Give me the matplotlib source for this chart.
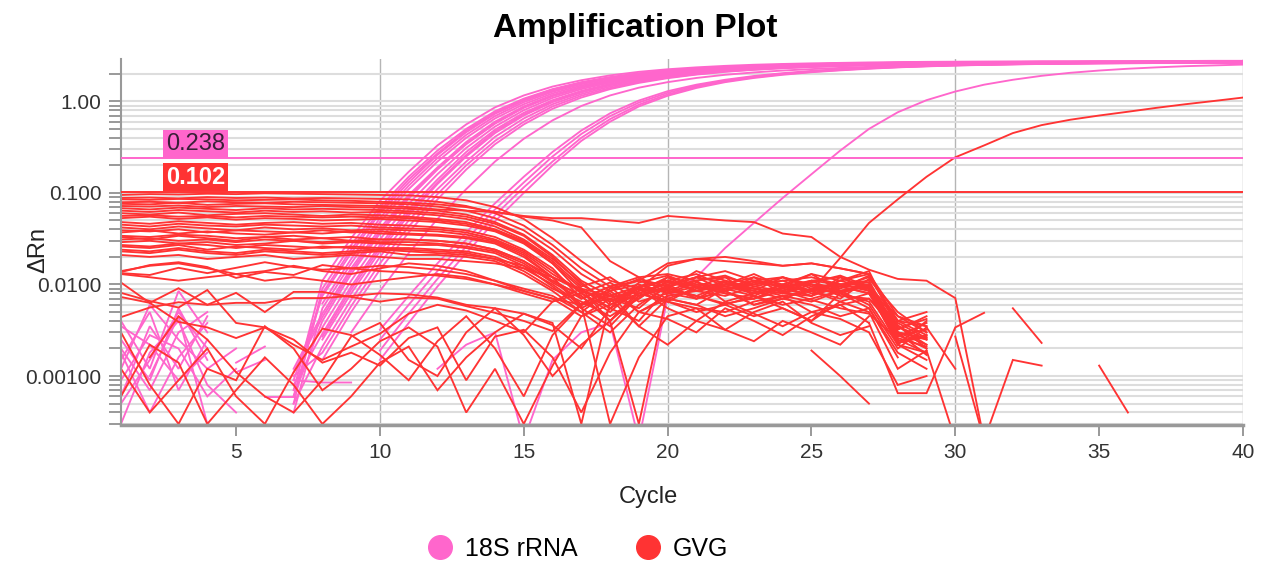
import numpy as np
import matplotlib
matplotlib.use('Agg')
import matplotlib.pyplot as plt
from matplotlib.lines import Line2D
from matplotlib.ticker import LogLocator, NullFormatter

nan = np.nan

# ---- data (delta Rn per cycle) ----
series_names = ['18S rRNA', 'GVG']
thresholds = [0.238, 0.102]
threshold_labels = ['0.238', '0.102']
xtick_values = [5, 10, 15, 20, 25, 30, 35, 40]
ytick_values = [0.001, 0.01, 0.1, 1.0]
ytick_labels = ['0.00100', '0.0100', '0.100', '1.00']

# 18S rRNA: main amplification curves, cycles 7..40
pink_main = [
    [0.0007, 0.011, 0.032, 0.082, 0.17, 0.33, 0.56, 0.86, 1.16, 1.45, 1.70, 1.92, 2.10, 2.24, 2.35, 2.44, 2.51, 2.56, 2.60, 2.63, 2.66, 2.68, 2.70, 2.71, 2.72, 2.73, 2.74, 2.74, 2.75, 2.75, 2.76, 2.76, 2.77, 2.77],
    [0.0005, 0.009, 0.027, 0.070, 0.15, 0.29, 0.50, 0.78, 1.07, 1.36, 1.62, 1.84, 2.02, 2.17, 2.29, 2.38, 2.45, 2.51, 2.55, 2.59, 2.62, 2.64, 2.66, 2.67, 2.68, 2.69, 2.70, 2.70, 2.71, 2.71, 2.72, 2.72, 2.73, 2.73],
    [0.0006, 0.0080, 0.024, 0.064, 0.14, 0.27, 0.48, 0.75, 1.05, 1.34, 1.60, 1.82, 2.01, 2.16, 2.28, 2.37, 2.44, 2.50, 2.55, 2.58, 2.61, 2.64, 2.66, 2.67, 2.68, 2.69, 2.70, 2.70, 2.71, 2.71, 2.72, 2.72, 2.73, 2.73],
    [0.0009, 0.0075, 0.022, 0.060, 0.13, 0.26, 0.46, 0.73, 1.02, 1.31, 1.58, 1.80, 1.99, 2.14, 2.26, 2.36, 2.43, 2.49, 2.54, 2.58, 2.61, 2.63, 2.65, 2.66, 2.67, 2.68, 2.69, 2.69, 2.70, 2.70, 2.71, 2.71, 2.72, 2.72],
    [nan, 0.0062, 0.019, 0.053, 0.12, 0.24, 0.43, 0.69, 0.98, 1.27, 1.54, 1.77, 1.96, 2.12, 2.25, 2.35, 2.43, 2.49, 2.54, 2.58, 2.61, 2.64, 2.66, 2.67, 2.68, 2.69, 2.70, 2.71, 2.71, 2.72, 2.72, 2.73, 2.73, 2.74],
    [0.0004, 0.0055, 0.017, 0.048, 0.11, 0.22, 0.40, 0.65, 0.93, 1.22, 1.49, 1.72, 1.92, 2.08, 2.21, 2.31, 2.39, 2.45, 2.50, 2.54, 2.57, 2.60, 2.62, 2.63, 2.64, 2.65, 2.66, 2.66, 2.67, 2.67, 2.68, 2.68, 2.69, 2.69],
    [0.0012, 0.0048, 0.015, 0.041, 0.095, 0.19, 0.36, 0.60, 0.88, 1.17, 1.44, 1.68, 1.88, 2.05, 2.18, 2.29, 2.37, 2.44, 2.49, 2.53, 2.57, 2.60, 2.62, 2.64, 2.65, 2.66, 2.67, 2.68, 2.68, 2.69, 2.69, 2.70, 2.70, 2.71],
    [0.0011, 0.0044, 0.014, 0.038, 0.091, 0.185, 0.35, 0.58, 0.86, 1.15, 1.42, 1.66, 1.86, 2.03, 2.17, 2.28, 2.36, 2.43, 2.48, 2.53, 2.56, 2.59, 2.61, 2.63, 2.64, 2.65, 2.66, 2.67, 2.67, 2.68, 2.68, 2.69, 2.69, 2.70],
    [0.0006, 0.0040, 0.013, 0.036, 0.087, 0.18, 0.34, 0.57, 0.85, 1.14, 1.41, 1.65, 1.85, 2.02, 2.16, 2.27, 2.36, 2.43, 2.48, 2.52, 2.56, 2.59, 2.61, 2.63, 2.64, 2.65, 2.66, 2.67, 2.67, 2.68, 2.68, 2.69, 2.69, 2.70],
    [nan, 0.0034, 0.011, 0.031, 0.076, 0.16, 0.31, 0.53, 0.80, 1.09, 1.36, 1.60, 1.81, 1.98, 2.12, 2.23, 2.32, 2.39, 2.45, 2.50, 2.54, 2.57, 2.60, 2.62, 2.63, 2.64, 2.65, 2.66, 2.66, 2.67, 2.67, 2.68, 2.68, 2.69],
    [0.0008, 0.0029, 0.0095, 0.027, 0.066, 0.14, 0.28, 0.49, 0.75, 1.03, 1.30, 1.55, 1.76, 1.94, 2.09, 2.21, 2.30, 2.38, 2.44, 2.49, 2.53, 2.56, 2.59, 2.61, 2.62, 2.63, 2.64, 2.65, 2.65, 2.66, 2.66, 2.67, 2.67, 2.68],
    [nan, 0.0027, 0.0088, 0.025, 0.061, 0.13, 0.26, 0.47, 0.72, 1.00, 1.27, 1.52, 1.74, 1.92, 2.07, 2.19, 2.29, 2.37, 2.43, 2.48, 2.52, 2.55, 2.58, 2.60, 2.61, 2.62, 2.63, 2.64, 2.64, 2.65, 2.65, 2.66, 2.66, 2.67],
    [nan, 0.0025, 0.0080, 0.023, 0.057, 0.125, 0.25, 0.45, 0.70, 0.98, 1.25, 1.50, 1.72, 1.90, 2.06, 2.18, 2.28, 2.36, 2.42, 2.47, 2.51, 2.55, 2.58, 2.60, 2.61, 2.62, 2.63, 2.64, 2.64, 2.65, 2.65, 2.66, 2.66, 2.67],
    [0.0005, 0.0021, 0.0068, 0.020, 0.050, 0.11, 0.22, 0.41, 0.65, 0.93, 1.20, 1.45, 1.67, 1.86, 2.02, 2.15, 2.25, 2.33, 2.40, 2.45, 2.50, 2.53, 2.56, 2.58, 2.60, 2.61, 2.62, 2.63, 2.63, 2.64, 2.64, 2.65, 2.65, 2.66],
    [0.0010, 0.0018, 0.0058, 0.017, 0.043, 0.097, 0.20, 0.37, 0.60, 0.88, 1.15, 1.40, 1.63, 1.82, 1.98, 2.12, 2.22, 2.31, 2.38, 2.44, 2.48, 2.52, 2.55, 2.57, 2.59, 2.60, 2.61, 2.62, 2.62, 2.63, 2.63, 2.64, 2.64, 2.65],
    [nan, 0.0015, 0.0050, 0.0145, 0.037, 0.085, 0.18, 0.34, 0.56, 0.83, 1.10, 1.36, 1.59, 1.79, 1.96, 2.10, 2.21, 2.30, 2.37, 2.43, 2.48, 2.52, 2.55, 2.57, 2.59, 2.60, 2.61, 2.62, 2.63, 2.63, 2.64, 2.64, 2.65, 2.65],
    [nan, nan, 0.0030, 0.0085, 0.022, 0.052, 0.11, 0.22, 0.39, 0.62, 0.89, 1.16, 1.41, 1.62, 1.80, 1.95, 2.07, 2.17, 2.25, 2.32, 2.38, 2.43, 2.47, 2.50, 2.53, 2.55, 2.57, 2.59, 2.60, 2.61, 2.62, 2.63, 2.64, 2.65],
]
pink_main_start = 7

# 18S rRNA: later wells, cycles 10..40
pink_late = [
    [0.0032, 0.0075, 0.017, 0.037, 0.077, 0.15, 0.28, 0.48, 0.74, 1.02, 1.29, 1.52, 1.72, 1.89, 2.03, 2.15, 2.25, 2.33, 2.40, 2.45, 2.50, 2.53, 2.56, 2.58, 2.60, 2.62, 2.63, 2.64, 2.65, 2.66, 2.67],
    [0.0025, 0.0060, 0.014, 0.031, 0.066, 0.13, 0.25, 0.44, 0.69, 0.97, 1.24, 1.48, 1.68, 1.86, 2.00, 2.12, 2.22, 2.30, 2.37, 2.43, 2.48, 2.52, 2.55, 2.57, 2.59, 2.61, 2.62, 2.63, 2.64, 2.65, 2.66],
    [0.0019, 0.0048, 0.0115, 0.026, 0.057, 0.115, 0.22, 0.40, 0.64, 0.92, 1.19, 1.44, 1.65, 1.83, 1.98, 2.10, 2.20, 2.29, 2.36, 2.42, 2.47, 2.51, 2.54, 2.57, 2.59, 2.61, 2.62, 2.63, 2.64, 2.65, 2.66],
    [0.0015, 0.0038, 0.0095, 0.022, 0.049, 0.10, 0.20, 0.37, 0.60, 0.88, 1.15, 1.40, 1.62, 1.80, 1.95, 2.08, 2.18, 2.27, 2.35, 2.41, 2.46, 2.50, 2.53, 2.56, 2.58, 2.60, 2.61, 2.62, 2.63, 2.64, 2.65],
]
pink_late_start = 10

# 18S rRNA: one very late well, cycles 12..40
pink_outlier = [0.0012, 0.0022, 0.0030, 0.0002, 0.0015, 0.0030, 0.0038, 0.0002, 0.0073, 0.012, 0.025, 0.047, 0.088, 0.16, 0.29, 0.50, 0.76, 1.03, 1.28, 1.52, 1.72, 1.90, 2.05, 2.17, 2.27, 2.35, 2.42, 2.47, 2.52]
pink_outlier_start = 12

# 18S rRNA: noisy baseline fragments (start cycle, values)
pink_noise = [
    (1, [0.0006, 0.0035, 0.0012, 0.0045]),
    (1, [0.0025, 0.0009, 0.0055, 0.0015]),
    (1, [0.0003, 0.0018, 0.0040, 0.0008, 0.0004]),
    (1, [0.0015, 0.0050, 0.0007, 0.0025]),
    (1, [0.0040, 0.0012, 0.0085, 0.0030]),
    (1, [0.0009, 0.0028, 0.0020, 0.0006, 0.0012]),
    (1, [0.0020, 0.0007, 0.0030, 0.0050]),
    (1, [0.0035, 0.0022, 0.0009, 0.0018]),
    (1, [0.0012, 0.0060, 0.0025, 0.0012, 0.0020]),
    (1, [0.0005, 0.0015, 0.0050, 0.0020]),
    (1, [0.0018, 0.0004, 0.0016, 0.0038]),
    (2, [0.0010, 0.0045, 0.0003]),
    (5, [0.0011, 0.0015]),
    (5, [0.0014, 0.0021]),
    (6, [0.00059, 0.00059]),
    (7, [0.0009, 0.00085, 0.00085]),
]

# GVG: baseline wells, cycles 1..29
red_band = [
    [0.095, 0.097, 0.096, 0.098, 0.097, 0.099, 0.098, 0.097, 0.096, 0.095, 0.094, 0.090, 0.083, 0.070, 0.052, 0.032, 0.018, 0.011, 0.009, 0.016, 0.019, 0.018, 0.017, 0.016, 0.017, 0.015, 0.013, 0.0045, 0.0035],
    [0.088, 0.089, 0.087, 0.090, 0.088, 0.089, 0.087, 0.088, 0.087, 0.086, 0.085, 0.080, 0.072, 0.060, 0.044, 0.027, 0.015, 0.0095, 0.011, 0.017, 0.019, 0.020, 0.018, 0.016, 0.017, 0.015, 0.013, 0.0038, 0.0026],
    [0.079, 0.080, 0.078, 0.081, 0.079, 0.078, 0.080, 0.079, 0.078, 0.077, 0.075, 0.071, 0.064, 0.053, 0.039, 0.024, 0.013, 0.0085, 0.0115, 0.0095, 0.012, 0.014, 0.011, 0.0095, 0.013, 0.011, 0.014, 0.0032, 0.0045],
    [0.076, 0.075, 0.078, 0.074, 0.076, 0.077, 0.075, 0.074, 0.073, 0.072, 0.070, 0.066, 0.064, 0.062, 0.055, 0.050, 0.042, 0.018, 0.012, 0.013, 0.011, 0.012, 0.010, 0.011, 0.012, 0.010, 0.011, 0.0030, 0.0025],
    [0.072, 0.071, 0.073, 0.070, 0.072, 0.071, 0.070, 0.072, 0.070, 0.069, 0.067, 0.064, 0.058, 0.048, 0.035, 0.021, 0.011, 0.0075, 0.0070, 0.011, 0.013, 0.0095, 0.0085, 0.012, 0.010, 0.0085, 0.010, 0.0027, 0.0038],
    [0.068, 0.066, 0.069, 0.067, 0.065, 0.068, 0.066, 0.067, 0.066, 0.065, 0.063, 0.060, 0.055, 0.046, 0.034, 0.020, 0.010, 0.0065, 0.0085, 0.012, 0.010, 0.0095, 0.011, 0.012, 0.009, 0.010, 0.0105, 0.0028, 0.0032],
    [0.064, 0.062, 0.065, 0.063, 0.061, 0.064, 0.062, 0.063, 0.061, 0.062, 0.060, 0.057, 0.052, 0.043, 0.031, 0.019, 0.0105, 0.0060, 0.0090, 0.0085, 0.0110, 0.0125, 0.0095, 0.0085, 0.0105, 0.0125, 0.0095, 0.0026, 0.0021],
    [0.060, 0.058, 0.061, 0.057, 0.059, 0.060, 0.058, 0.056, 0.058, 0.057, 0.055, 0.052, 0.048, 0.040, 0.030, 0.018, 0.0095, 0.012, 0.0075, 0.009, 0.014, 0.011, 0.009, 0.008, 0.011, 0.012, 0.009, 0.0022, 0.0040],
    [0.056, 0.057, 0.055, 0.056, 0.054, 0.056, 0.055, 0.054, 0.055, 0.054, 0.053, 0.050, 0.046, 0.039, 0.029, 0.017, 0.0090, 0.0055, 0.0105, 0.0125, 0.0095, 0.0085, 0.0120, 0.0100, 0.0080, 0.0090, 0.0125, 0.0040, 0.0035],
    [0.053, 0.055, 0.052, 0.054, 0.051, 0.053, 0.052, 0.050, 0.051, 0.052, 0.050, 0.048, 0.044, 0.038, 0.028, 0.017, 0.008, 0.005, 0.0095, 0.011, 0.0085, 0.010, 0.013, 0.0095, 0.0085, 0.011, 0.013, 0.0035, 0.0022],
    [0.048, 0.046, 0.049, 0.047, 0.045, 0.047, 0.048, 0.046, 0.047, 0.045, 0.044, 0.042, 0.039, 0.033, 0.024, 0.015, 0.007, 0.0095, 0.012, 0.0080, 0.0095, 0.012, 0.0075, 0.010, 0.013, 0.0085, 0.0095, 0.0045, 0.0030],
    [0.045, 0.043, 0.046, 0.044, 0.043, 0.045, 0.044, 0.043, 0.044, 0.042, 0.041, 0.040, 0.037, 0.031, 0.023, 0.014, 0.0080, 0.0105, 0.0065, 0.0080, 0.0105, 0.0090, 0.0100, 0.0120, 0.0095, 0.0080, 0.0100, 0.0033, 0.0042],
    [0.042, 0.040, 0.043, 0.041, 0.039, 0.042, 0.040, 0.041, 0.039, 0.040, 0.039, 0.038, 0.035, 0.030, 0.022, 0.013, 0.0085, 0.0070, 0.0055, 0.010, 0.012, 0.0085, 0.011, 0.0095, 0.0075, 0.012, 0.0085, 0.0025, 0.0018],
    [0.039, 0.038, 0.040, 0.037, 0.039, 0.038, 0.037, 0.039, 0.037, 0.038, 0.036, 0.035, 0.033, 0.029, 0.021, 0.012, 0.0055, 0.0035, 0.0075, 0.0095, 0.0120, 0.0105, 0.0080, 0.0090, 0.0110, 0.0100, 0.0090, 0.0024, 0.0028],
    [0.037, 0.039, 0.036, 0.038, 0.036, 0.035, 0.037, 0.036, 0.038, 0.036, 0.035, 0.034, 0.032, 0.028, 0.020, 0.012, 0.0060, 0.0090, 0.0110, 0.0090, 0.0075, 0.010, 0.012, 0.0080, 0.010, 0.0095, 0.012, 0.0040, 0.0050],
    [0.033, 0.031, 0.034, 0.032, 0.030, 0.033, 0.031, 0.032, 0.030, 0.031, 0.031, 0.030, 0.028, 0.024, 0.018, 0.011, 0.0075, 0.0040, 0.0080, 0.0105, 0.0095, 0.0080, 0.0070, 0.0095, 0.011, 0.0080, 0.010, 0.0030, 0.0026],
    [0.031, 0.032, 0.030, 0.031, 0.029, 0.031, 0.030, 0.029, 0.030, 0.029, 0.029, 0.028, 0.026, 0.023, 0.017, 0.0105, 0.0070, 0.0095, 0.0050, 0.0075, 0.0085, 0.0110, 0.0090, 0.0080, 0.0075, 0.0110, 0.0090, 0.0036, 0.0020],
    [0.029, 0.030, 0.028, 0.029, 0.027, 0.028, 0.030, 0.028, 0.029, 0.028, 0.027, 0.027, 0.025, 0.022, 0.016, 0.0095, 0.0055, 0.0080, 0.0035, 0.0070, 0.0090, 0.0105, 0.0085, 0.0070, 0.0090, 0.0100, 0.0085, 0.0022, 0.0015],
    [0.027, 0.026, 0.028, 0.027, 0.025, 0.027, 0.026, 0.025, 0.026, 0.025, 0.025, 0.024, 0.023, 0.020, 0.015, 0.0100, 0.0060, 0.0070, 0.0090, 0.0065, 0.0095, 0.0080, 0.0070, 0.0095, 0.0100, 0.0075, 0.0070, 0.0030, 0.0017],
    [0.026, 0.025, 0.027, 0.024, 0.026, 0.025, 0.024, 0.026, 0.025, 0.024, 0.024, 0.023, 0.022, 0.019, 0.014, 0.0090, 0.0065, 0.0045, 0.0070, 0.0120, 0.0085, 0.0075, 0.0095, 0.0110, 0.0085, 0.0070, 0.0115, 0.0050, 0.0030],
    [0.024, 0.023, 0.025, 0.023, 0.022, 0.024, 0.023, 0.022, 0.023, 0.024, 0.023, 0.022, 0.021, 0.019, 0.016, 0.011, 0.0075, 0.0040, 0.0085, 0.0100, 0.0070, 0.0085, 0.0060, 0.0075, 0.0085, 0.0065, 0.0080, 0.0023, 0.0027],
    [0.023, 0.022, 0.024, 0.022, 0.021, 0.023, 0.022, 0.021, 0.022, 0.023, 0.021, 0.021, 0.020, 0.018, 0.013, 0.0085, 0.0050, 0.0030, 0.0060, 0.0095, 0.0110, 0.0065, 0.0080, 0.0090, 0.0075, 0.0095, 0.0080, 0.0028, 0.0020],
    [0.021, 0.020, 0.021, 0.019, 0.020, 0.021, 0.019, 0.020, 0.021, 0.020, 0.019, 0.019, 0.018, 0.017, 0.015, 0.012, 0.0090, 0.0075, 0.0095, 0.0070, 0.0060, 0.0090, 0.0075, 0.0060, 0.0070, 0.0085, 0.0060, 0.0020, 0.0034],
    [0.014, 0.016, 0.017, 0.015, 0.013, 0.014, 0.016, 0.014, 0.013, 0.015, 0.017, 0.016, 0.014, 0.011, 0.0085, 0.0070, 0.0045, 0.0060, 0.0080, 0.0065, 0.0055, 0.0050, 0.0065, 0.0075, 0.0050, 0.0060, 0.0070, 0.0035, 0.0025],
    [0.0137, 0.0163, 0.0175, 0.0155, 0.0118, 0.0137, 0.0127, 0.0163, 0.0150, 0.0140, 0.0135, 0.0125, 0.0115, 0.0100, 0.0085, 0.0070, 0.0060, 0.0075, 0.0095, 0.0110, 0.0085, 0.0095, 0.0080, 0.0100, 0.0085, 0.0095, 0.0080, 0.0030, 0.0022],
    [0.0133, 0.0127, 0.0152, 0.0133, 0.0152, 0.0175, 0.0155, 0.0145, 0.0150, 0.0160, 0.0155, 0.0145, 0.0130, 0.0110, 0.0090, 0.0075, 0.0050, 0.0085, 0.0100, 0.0080, 0.0070, 0.0100, 0.0090, 0.0075, 0.0065, 0.0085, 0.0095, 0.0040, 0.0028],
    [0.013, 0.012, 0.011, 0.012, 0.013, 0.011, 0.012, 0.011, 0.010, 0.011, 0.012, 0.013, 0.012, 0.010, 0.0080, 0.0065, 0.0080, 0.0055, 0.0040, 0.0090, 0.0075, 0.0060, 0.0045, 0.0055, 0.0040, 0.0080, 0.0055, 0.0018, 0.0012],
]

# GVG: low, noisy wells, cycles 1..29
red_low = [
    [0.0105, 0.0063, 0.0039, 0.0034, 0.0026, 0.0034, 0.0022, 0.0015, 0.0021, 0.0029, 0.0048, 0.0060, 0.0052, 0.0040, 0.0030, 0.0065, 0.0090, 0.0040, 0.0075, 0.0095, 0.0070, 0.0085, 0.0060, 0.0070, 0.0090, 0.0080, 0.0065, 0.0022, 0.0018],
    [0.0073, 0.0063, 0.0091, 0.0060, 0.0081, 0.0050, 0.0083, 0.0083, 0.0073, 0.0065, 0.0072, 0.0070, 0.0058, 0.0049, 0.0040, 0.0031, 0.0062, 0.0085, 0.0050, 0.0070, 0.0060, 0.0045, 0.0055, 0.0070, 0.0060, 0.0045, 0.0055, 0.0016, nan],
    [0.0044, 0.0056, 0.0064, 0.0060, 0.0063, 0.0063, 0.0071, 0.0071, 0.0075, 0.0080, 0.0078, 0.0072, 0.0060, 0.0055, 0.0048, 0.0036, 0.0020, 0.0055, 0.0080, 0.0065, 0.0050, 0.0060, 0.0075, 0.0055, 0.0040, 0.0065, 0.0050, 0.0012, 0.0019],
    [0.0081, 0.0066, 0.0056, 0.0087, 0.0038, 0.0034, 0.0025, 0.0014, 0.0018, 0.0013, 0.0026, 0.0034, 0.0009, 0.0027, 0.0032, 0.0016, 0.0004, 0.0018, 0.0050, 0.0042, 0.0030, 0.0055, 0.0040, 0.0028, 0.0045, 0.0060, 0.0038, nan, nan],
    [0.0030, 0.0008, 0.0003, 0.0012, 0.0009, 0.0035, 0.0020, 0.0007, 0.0012, 0.0024, 0.0034, 0.0021, 0.0004, 0.0012, 0.0003, 0.0013, 0.0045, 0.0070, 0.0035, 0.0022, 0.0040, 0.0065, 0.0048, 0.0035, 0.0050, 0.0042, 0.0030, 0.0008, 0.0010],
    [0.0012, 0.0004, 0.0009, 0.0020, 0.0006, 0.0003, 0.0011, 0.0033, 0.0028, 0.0017, 0.0009, 0.0024, 0.0045, 0.0020, 0.0006, 0.0028, 0.0060, 0.0003, 0.0016, 0.0045, 0.0055, 0.0032, 0.0024, 0.0040, 0.0030, 0.0022, 0.0045, nan, nan],
    [0.0006, 0.0022, 0.0014, 0.0003, 0.0007, 0.0016, 0.0008, 0.0003, 0.0006, 0.0014, 0.0021, 0.0007, 0.0016, 0.0030, 0.0048, 0.0038, 0.0003, 0.0065, 0.0090, 0.0055, 0.0040, 0.0032, 0.0050, 0.0065, 0.0038, 0.0028, 0.0035, nan, nan],
    [nan, 0.0016, 0.0045, 0.0025, 0.0011, 0.0006, 0.0004, 0.0009, 0.0027, 0.0038, 0.0015, 0.0010, 0.0030, 0.0055, 0.0028, 0.0010, 0.0022, 0.0040, 0.0003, 0.0085, 0.0075, 0.0062, 0.0070, 0.0085, 0.0068, 0.0055, 0.0048, 0.0025, nan],
]

# GVG: well that stays high, cycles 1..31
red_persist = [0.085, 0.084, 0.086, 0.085, 0.083, 0.084, 0.085, 0.083, 0.082, 0.080, 0.078, 0.075, 0.070, 0.062, 0.056, 0.053, 0.053, 0.050, 0.047, 0.056, 0.053, 0.050, 0.048, 0.036, 0.033, 0.020, 0.0145, 0.0115, 0.011, 0.0071, 0.0002]

# GVG: the one amplifying well, cycles 1..40
red_amp = [0.034, 0.033, 0.035, 0.034, 0.032, 0.033, 0.034, 0.032, 0.033, 0.031, 0.031, 0.030, 0.028, 0.024, 0.018,
           0.012, 0.0085, 0.0065, 0.0095, 0.011, 0.0095, 0.0085, 0.0105, 0.0095, 0.0085,
           0.0195, 0.047, 0.085, 0.15, 0.245, 0.33, 0.45, 0.55, 0.63, 0.70, 0.77, 0.85, 0.93, 1.01, 1.10]

# GVG: late fragments (start cycle, values)
red_tails = [
    (29, [0.0034, 0.0012]),
    (27, [0.0038, 0.00065, 0.00065, 0.0034, 0.0049]),
    (29, [0.0019, 0.0002]),
    (30, [0.0027, 0.0002, 0.0015, 0.0013]),
    (32, [0.0055, 0.0023]),
    (35, [0.0013, 0.0004]),
    (25, [0.0019, 0.0010, 0.0005]),
]

pink = '#ff66cc'
red = '#ff3333'
lw = 1.35


def draw(ax, start, vals, color):
    vals = np.array(vals, dtype=float)
    x = np.arange(start, start + len(vals))
    ax.plot(x, vals, color=color, lw=lw, solid_joinstyle='miter')


plt.rcParams['font.family'] = ['Liberation Sans', 'DejaVu Sans']

fig = plt.figure(figsize=(12.63, 5.65), dpi=100)
ax = fig.add_axes([121 / 1263, 1 - 425 / 565, (1243 - 121) / 1263, (425 - 59) / 565])

# pink first, red on top
for s, v in pink_noise:
    draw(ax, s, v, pink)
for v in pink_main:
    draw(ax, pink_main_start, v, pink)
for v in pink_late:
    draw(ax, pink_late_start, v, pink)
draw(ax, pink_outlier_start, pink_outlier, pink)

for v in red_band:
    draw(ax, 1, v, red)
for v in red_low:
    draw(ax, 1, v, red)
draw(ax, 1, red_persist, red)
draw(ax, 1, red_amp, red)
for s, v in red_tails:
    draw(ax, s, v, red)

# threshold lines and their labels
ax.axhline(thresholds[0], color=pink, lw=1.4, zorder=5)
ax.axhline(thresholds[1], color=red, lw=1.4, zorder=5)
ax.annotate(threshold_labels[0], xy=(3.6, thresholds[0]), xytext=(0, 2.5), textcoords='offset points',
            ha='center', va='bottom', fontsize=17, color='#3a1f38', zorder=6,
            bbox=dict(boxstyle='square,pad=0.12', fc=pink, ec='none'))
ax.annotate(threshold_labels[1], xy=(3.6, thresholds[1]), xytext=(0, 2.5), textcoords='offset points',
            ha='center', va='bottom', fontsize=17, color='white', fontweight='bold', zorder=6,
            bbox=dict(boxstyle='square,pad=0.12', fc=red, ec='none'))

# axes
ax.set_yscale('log')
ax.set_xlim(1, 40)
ax.set_ylim(0.000292, 2.9)
ax.set_yticks(ytick_values)
ax.set_yticklabels(ytick_labels)
ax.yaxis.set_minor_locator(LogLocator(base=10, subs=range(2, 10)))
ax.yaxis.set_minor_formatter(NullFormatter())
ax.set_xticks(xtick_values)
ax.grid(which='both', axis='y', color='#dddddd', lw=1.5)
for xv in [10, 20, 30, 40]:
    ax.axvline(xv, color='#b5b5b5', lw=1.0, zorder=0.5)
ax.set_axisbelow(True)

for side in ['top', 'right']:
    ax.spines[side].set_visible(False)
ax.spines['left'].set_color('#999999')
ax.spines['left'].set_linewidth(1.5)
ax.spines['bottom'].set_color('#999999')
ax.spines['bottom'].set_linewidth(2.5)
ax.tick_params(axis='y', which='both', direction='out', length=9, width=1.4, color='#999999',
               labelsize=15, labelcolor='#333333', pad=5)
ax.tick_params(axis='x', which='both', direction='out', length=8, width=1.4, color='#999999',
               labelsize=15, labelcolor='#333333', pad=5)

fig.text(635 / 1263, 1 - 28 / 565, 'Amplification Plot', ha='center', va='center', fontsize=24, fontweight='bold')
fig.text(648 / 1263, 1 - 497 / 565, 'Cycle', ha='center', va='center', fontsize=17, color='#222222')
fig.text(38 / 1263, 1 - 250 / 565, 'ΔRn', ha='center', va='center', rotation=90, fontsize=17, color='#222222')

handles = [Line2D([], [], marker='o', ls='', ms=17, color=pink),
           Line2D([], [], marker='o', ls='', ms=17, color=red)]
fig.legend(handles, series_names, loc='center', bbox_to_anchor=(578 / 1263, 1 - 549 / 565), ncol=2,
           frameon=False, fontsize=18, handletextpad=0.5, columnspacing=2.3, handlelength=1.0)

fig.savefig('out.png', dpi=100)
